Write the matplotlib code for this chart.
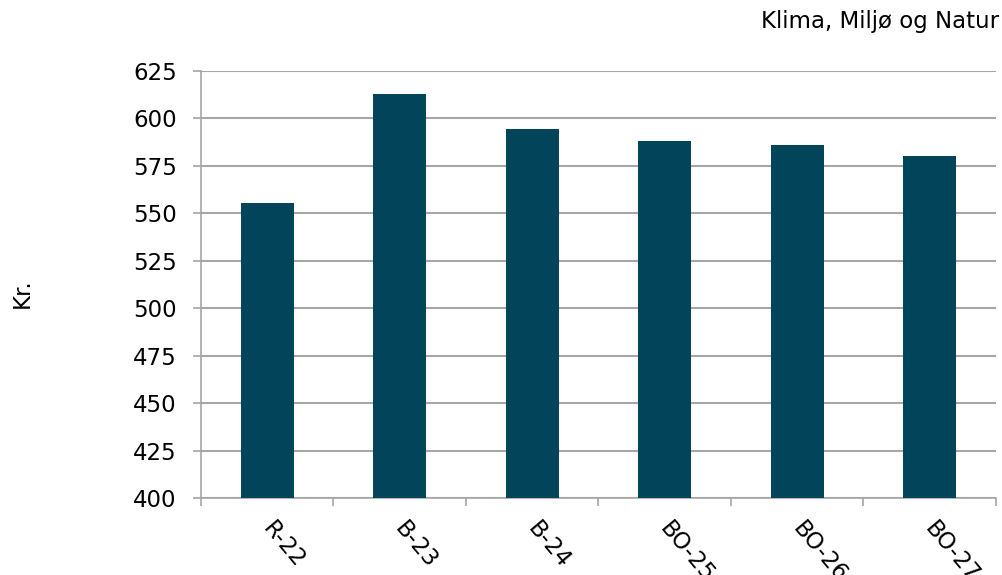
import numpy as np
import matplotlib.pyplot as plt

# Data
categories = ['R-22', 'B-23', 'B-24', 'BO-25', 'BO-26', 'BO-27']
values = [555.6, 612.7, 594.2, 588.1, 585.8, 580.2]

fig = plt.figure(figsize=(10.03, 5.75), dpi=100)
ax = fig.add_axes([0.2004, 0.1339, 0.7926, 0.7426])

x = np.arange(len(categories))
ax.bar(x, values, width=0.4, color='#02445A', zorder=3)

ax.set_ylim(400, 625)
ax.set_xlim(-0.5, len(categories) - 0.5)
ax.set_yticks(np.arange(400, 626, 25))
ax.yaxis.grid(True, color='#A6A6A6', linewidth=1.5, zorder=0)

for s in ['top', 'right']:
    ax.spines[s].set_visible(False)
for s in ['left', 'bottom']:
    ax.spines[s].set_color('#A6A6A6')
    ax.spines[s].set_linewidth(1.2)

# category boundaries as ticks
ax.set_xticks(np.arange(-0.5, len(categories), 1.0))
ax.set_xticklabels([])
ax.tick_params(axis='x', length=5.5, color='#A6A6A6', width=1.2)
ax.tick_params(axis='y', length=5.5, color='#A6A6A6', width=1.2, labelsize=16.5, pad=12)

for xi, lab in zip(x, categories):
    ax.text(xi + 0.06, 390, lab, rotation=-50, ha='left', va='top',
            rotation_mode='anchor', fontsize=16.5, clip_on=False)

fig.text(0.022, 0.49, 'Kr.', rotation=90, fontsize=16.5, ha='center', va='center')
fig.text(0.996, 0.962, 'Klima, Miljø og Natur', fontsize=16.5, ha='right', va='center')

fig.savefig('out.png', dpi=100)
